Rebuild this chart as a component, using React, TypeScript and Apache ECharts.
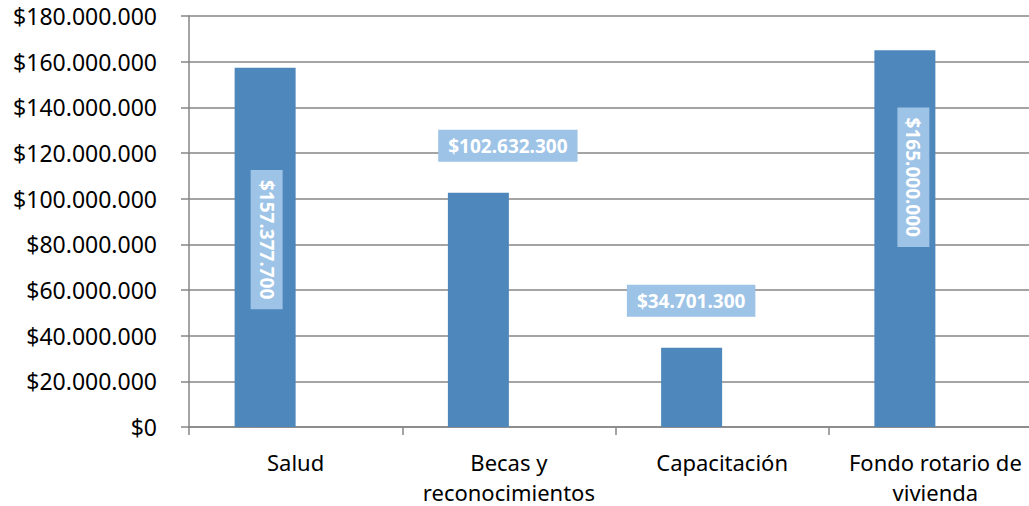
import React, { useEffect, useRef } from "react";
import * as echarts from "echarts";

const categories = ["Salud", "Becas y\nreconocimientos", "Capacitación", "Fondo rotario de\nvivienda"];
const values = [157377700, 102632300, 34701300, 165000000];
const emptySeries = [null, null, null, null];
const yTicks = { min: 0, max: 180000000, interval: 20000000 };

function money(v: number): string {
  const s = Math.round(v).toString();
  return "$" + s.replace(/\B(?=(\d{3})+(?!\d))/g, ".");
}

export default function App() {
  const ref = useRef<HTMLDivElement>(null);
  useEffect(() => {
    if (!ref.current) return;
    const chart = echarts.init(ref.current, undefined, { renderer: "svg" });
    const font = "Noto Sans";
    const labelPlacement: Array<{ position: [number, number]; rotate: number }> = [
      { position: [32, 172], rotate: -90 },
      { position: [60, -47], rotate: 0 },
      { position: [30, -47], rotate: 0 },
      { position: [39, 127], rotate: -90 },
    ];
    chart.setOption({
      animation: false,
      grid: {
        left: 189,
        top: 16,
        width: 853,
        height: 411,
        containLabel: false,
        outerBoundsMode: "none",
      },
      xAxis: {
        type: "category",
        data: categories,
        boundaryGap: true,
        axisLine: { show: true, lineStyle: { color: "#868686", width: 1.5 } },
        axisTick: { show: true, length: 8, alignWithLabel: false, lineStyle: { color: "#868686", width: 1.5 } },
        axisLabel: {
          interval: 0,
          margin: 20,
          color: "#000",
          fontFamily: font,
          fontSize: 22,
          lineHeight: 30,
          hideOverlap: false,
        },
        splitLine: { show: false },
      },
      yAxis: {
        type: "value",
        min: yTicks.min,
        max: yTicks.max,
        interval: yTicks.interval,
        axisLine: { show: true, lineStyle: { color: "#868686", width: 1.5 } },
        axisTick: { show: true, length: 8, lineStyle: { color: "#868686", width: 1.5 } },
        axisLabel: {
          margin: 32,
          color: "#000",
          fontFamily: font,
          fontSize: 23,
          formatter: (v: number) => money(v),
        },
        splitLine: { show: true, lineStyle: { color: "#868686", width: 1.5 } },
      },
      series: [
        {
          type: "bar",
          barWidth: 61,
          barGap: "0%",
          itemStyle: { color: "#4E87BB" },
          data: values.map((v, i) => ({
            value: v,
            label: {
              show: true,
              position: labelPlacement[i].position,
              rotate: labelPlacement[i].rotate,
              align: "center",
              verticalAlign: "middle",
              formatter: () => money(v),
              color: "#fff",
              fontFamily: font,
              fontWeight: "bold",
              fontSize: 19,
              lineHeight: 22,
              backgroundColor: "#9DC3E6",
              padding: [5, 10],
            },
          })),
        },
        {
          type: "bar",
          barWidth: 61,
          barGap: "0%",
          itemStyle: { color: "#C0504D" },
          data: emptySeries,
        },
      ],
    });
    return () => chart.dispose();
  }, []);
  return (
    <div
      ref={ref}
      style={{ position: "fixed", left: 0, top: 0, width: 1029, height: 506, background: "#fff" }}
    />
  );
}
